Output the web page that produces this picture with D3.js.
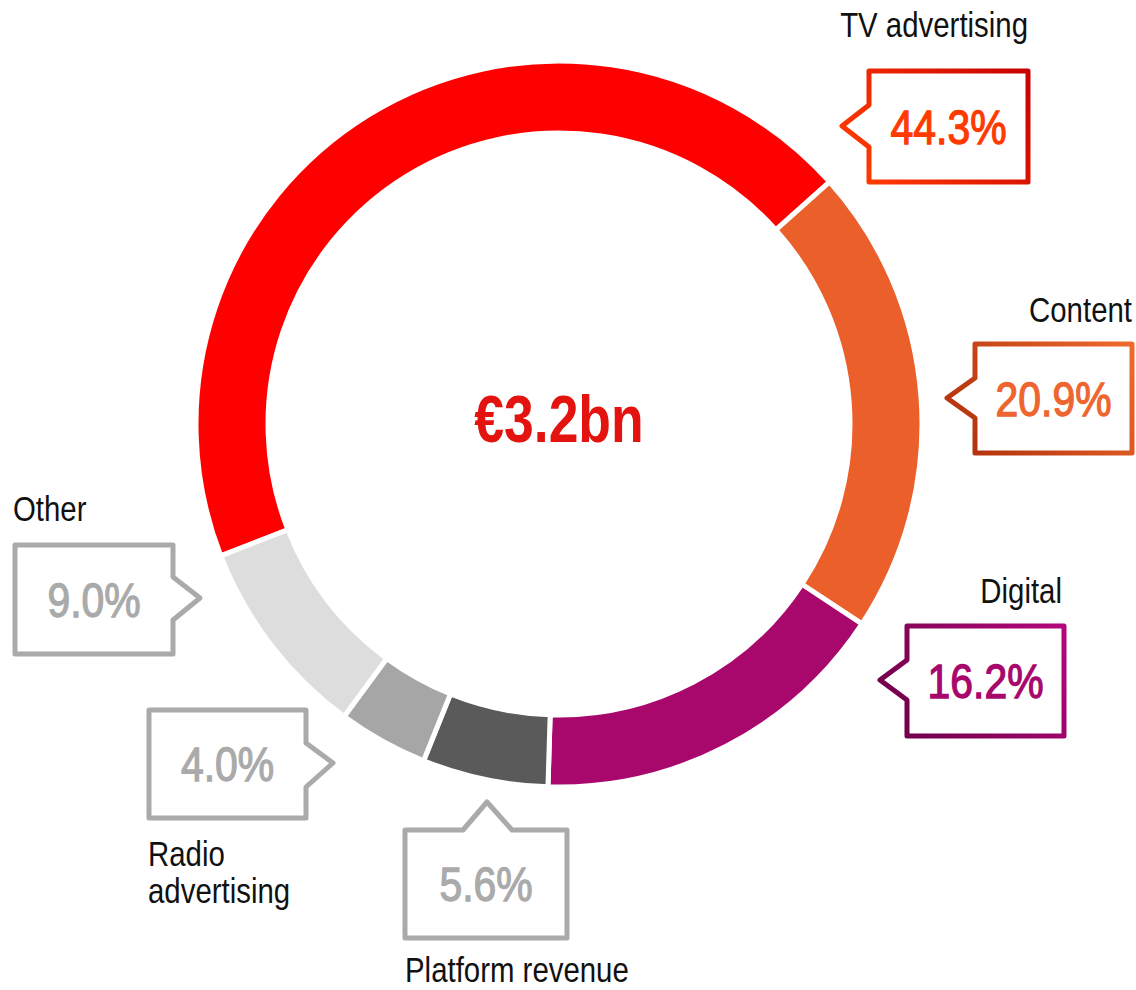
<!DOCTYPE html>
<html>
<head>
<meta charset="utf-8">
<script src="https://cdn.jsdelivr.net/npm/d3@7"></script>
<style>
  body { margin: 0; background: #fff; }
  text { font-family: "Liberation Sans", Arial, sans-serif; }
</style>
</head>
<body>
<div id="viz"></div>
<script>
const categories = ["TV advertising", "Content", "Digital", "Platform revenue", "Radio advertising", "Other"];
const shares = [44.3, 20.9, 16.2, 5.6, 4.0, 9.0];
const total = "€3.2bn";

const W = 1136, H = 990;
const cx = 559, cy = 424;
const rOuter = 363, rInner = 291;
const narrowLbl = 0.84, narrowNum = 0.835, narrowTot = 0.81; // fake condensed font

const sliceColors = ["#ff0000", "#eb5f2a", "#a8076c", "#5a5a5a", "#a6a6a6", "#dddddd"];
// callout boxes: rect, pointer side, pointer tip, label lines
const callouts = [
  { x: 869, y: 71, w: 159, h: 111, side: "left", tip: [842, 126], base: [105, 147],
    grad: ["#ff3a00", "#c80000"], txt: "#ff3a00",
    label: ["TV advertising"], lx: 1028, ly: 37, anchor: "end" },
  { x: 975, y: 344, w: 157, h: 109, side: "left", tip: [947, 398], base: [378, 418],
    grad: ["#b3340d", "#f06a2e"], txt: "#ee6530",
    label: ["Content"], lx: 1132, ly: 322, anchor: "end" },
  { x: 907, y: 626, w: 157, h: 110, side: "left", tip: [880, 680], base: [660, 700],
    grad: ["#72004a", "#b3087a"], txt: "#a8076c",
    label: ["Digital"], lx: 1062, ly: 603, anchor: "end" },
  { x: 405, y: 830, w: 162, h: 108, side: "top", tip: [487, 802], base: [463, 512],
    grad: ["#aaaaaa", "#aaaaaa"], txt: "#aaaaaa",
    label: ["Platform revenue"], lx: 405, ly: 982, anchor: "start" },
  { x: 149, y: 710, w: 157, h: 108, side: "right", tip: [333, 763], base: [743, 787],
    grad: ["#aaaaaa", "#aaaaaa"], txt: "#aaaaaa",
    label: ["Radio", "advertising"], lx: 148, ly: 866, anchor: "start" },
  { x: 15, y: 545, w: 158, h: 109, side: "right", tip: [200, 598], base: [577, 620],
    grad: ["#aaaaaa", "#aaaaaa"], txt: "#aaaaaa",
    label: ["Other"], lx: 13, ly: 521, anchor: "start" }
];

const svg = d3.select('#viz').append('svg')
  .attr('width', W)
  .attr('height', H);

const defs = svg.append('defs');
callouts.forEach((c, i) => {
  const g = defs.append('linearGradient')
    .attr('id', 'g' + i)
    .attr('gradientUnits', 'userSpaceOnUse')
    .attr('x1', c.x).attr('y1', c.y + c.h)
    .attr('x2', c.x + c.w).attr('y2', c.y);
  g.append('stop').attr('offset', '0%').attr('stop-color', c.grad[0]);
  g.append('stop').attr('offset', '100%').attr('stop-color', c.grad[1]);
});

const toRad = d => d * Math.PI / 180;
const pie = d3.pie().sort(null).value(d => d)
  .startAngle(toRad(-111.3)).endAngle(toRad(248.7));
const arc = d3.arc().innerRadius(rInner).outerRadius(rOuter);

svg.append('g')
  .attr('transform', `translate(${cx},${cy})`)
  .selectAll('path')
  .data(pie(shares))
  .enter()
  .append('path')
  .attr('d', arc)
  .attr('fill', (d, i) => sliceColors[i])
  .attr('stroke', '#fff')
  .attr('stroke-width', 5)
  .attr('stroke-linejoin', 'miter');

// squeezed text helper
function squeezed(parent, x, y, sx) {
  return parent.append('g')
    .attr('transform', `translate(${x},${y}) scale(${sx},1)`)
    .append('text');
}

squeezed(svg, cx, 442, narrowTot)
  .attr('text-anchor', 'middle')
  .attr('font-size', 66)
  .attr('font-weight', 'bold')
  .attr('fill', '#e3140f')
  .text(total);

function boxPath(c) {
  const x0 = c.x, y0 = c.y, x1 = c.x + c.w, y1 = c.y + c.h;
  if (c.side === "left")
    return `M${x0},${y0}H${x1}V${y1}H${x0}V${c.base[1]}L${c.tip[0]},${c.tip[1]}L${x0},${c.base[0]}Z`;
  if (c.side === "right")
    return `M${x0},${y0}H${x1}V${c.base[0]}L${c.tip[0]},${c.tip[1]}L${x1},${c.base[1]}V${y1}H${x0}Z`;
  return `M${x0},${y0}H${c.base[0]}L${c.tip[0]},${c.tip[1]}L${c.base[1]},${y0}H${x1}V${y1}H${x0}Z`;
}

const fmt = d3.format('.1f');
const co = svg.selectAll('g.callout')
  .data(callouts)
  .enter()
  .append('g')
  .attr('class', 'callout');

co.append('path')
  .attr('d', boxPath)
  .attr('fill', '#fff')
  .attr('stroke', (d, i) => `url(#g${i})`)
  .attr('stroke-width', 5)
  .attr('stroke-linejoin', 'round');

co.each(function(d, i) {
  const g = d3.select(this);
  squeezed(g, d.x + d.w / 2, d.y + d.h / 2 + 17, narrowNum)
    .attr('text-anchor', 'middle')
    .attr('font-size', 49)
    .attr('fill', d.txt)
    .attr('stroke', d.txt)
    .attr('stroke-width', 1.3)
    .text(fmt(shares[i]) + '%');

  d.label.forEach((l, j) => {
    squeezed(g, d.lx, d.ly + j * 37, narrowLbl)
      .attr('text-anchor', d.anchor)
      .attr('font-size', 35)
      .attr('fill', '#111')
      .text(l);
  });
});
</script>
</body>
</html>
